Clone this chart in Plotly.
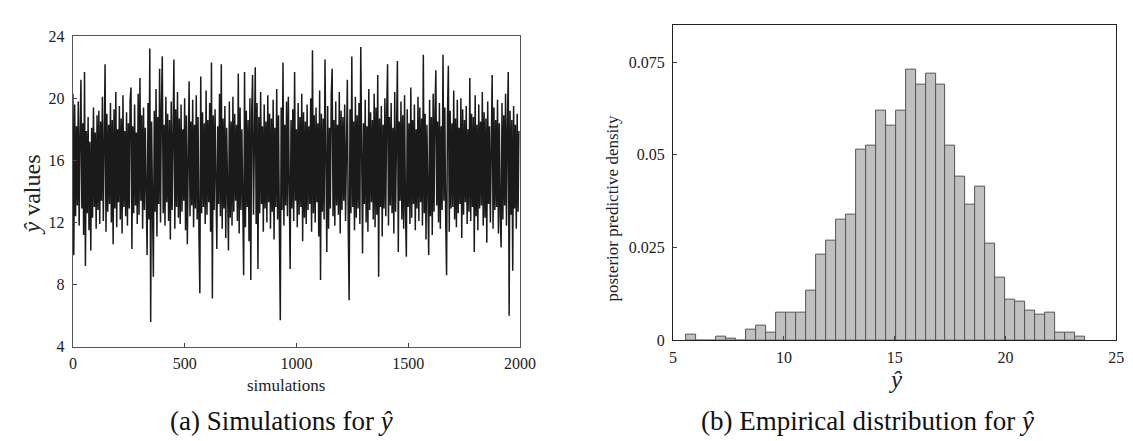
import plotly.graph_objects as go

# ---------------- data ----------------
# left panel: simulated y-hat values (every 4th simulation)
sim_step = 4
y_hat_trace = [
    20.3, 9.9, 19.6, 12.4, 18.2, 13.1, 19.8, 11.8, 17.6, 21.2, 12.9, 18.4, 11.2, 21.7, 9.2, 17.9, 12.6, 18.8, 11.5, 17.2,
    10.2, 18.1, 12.3, 19.4, 13.0, 17.8, 11.6, 18.9, 12.8, 19.2, 11.9, 18.5, 13.4, 20.1, 12.1, 17.7, 22.2, 11.4, 19.0, 12.7,
    18.3, 13.2, 19.7, 12.0, 18.6, 10.6, 19.3, 12.9, 20.4, 11.7, 18.0, 13.3, 19.5, 12.2, 18.7, 11.3, 20.2, 13.0, 17.9, 12.4,
    19.1, 11.8, 18.4, 12.9, 19.9, 20.7, 10.3, 18.2, 12.6, 19.6, 13.1, 17.8, 11.9, 20.3, 12.5, 21.3, 13.4, 18.9, 11.6, 19.4,
    12.8, 18.1, 13.0, 9.9, 19.7, 12.2, 23.2, 5.6, 18.5, 11.4, 8.5, 19.2, 12.7, 20.6, 11.1, 18.8, 13.2, 21.9, 12.0, 19.5,
    22.7, 12.6, 18.3, 11.8, 20.1, 13.3, 19.0, 12.1, 18.6, 10.9, 19.8, 12.8, 18.2, 22.5, 11.6, 19.3, 13.0, 20.4, 12.3, 18.7,
    11.9, 19.6, 12.7, 18.0, 13.4, 20.0, 11.5, 18.9, 10.6, 19.4, 21.1, 12.4, 18.5, 13.1, 19.9, 11.7, 18.3, 12.9, 20.2, 12.2,
    18.8, 11.2, 7.45, 21.4, 12.6, 19.1, 13.0, 18.4, 11.9, 20.5, 12.5, 18.6, 13.3, 19.7, 11.4, 22.3, 7.1, 18.9, 12.8, 19.3,
    12.0, 10.3, 18.2, 13.2, 20.3, 12.4, 22.2, 11.6, 18.7, 12.9, 19.5, 11.0, 18.1, 13.1, 10.2, 19.8, 12.3, 18.5, 11.8, 20.1,
    12.7, 19.0, 13.4, 18.3, 12.1, 21.6, 11.3, 19.4, 12.8, 18.0, 12.2, 8.6, 21.7, 11.7, 19.2, 13.0, 18.6, 10.8, 20.0, 8.3,
    19.1, 21.5, 12.5, 18.4, 22.0, 11.9, 19.7, 9.0, 18.8, 12.6, 20.4, 13.2, 18.2, 11.4, 19.6, 12.9, 18.5, 12.0, 20.2, 13.3,
    19.0, 11.6, 18.7, 12.7, 19.9, 10.9, 18.1, 13.0, 20.6, 12.2, 18.9, 11.5, 5.7, 19.4, 12.8, 22.3, 11.8, 18.3, 13.1, 19.8,
    12.4, 20.1, 11.2, 9.0, 18.6, 12.9, 19.3, 12.1, 21.7, 13.4, 18.0, 11.7, 19.7, 12.5, 18.8, 13.0, 20.3, 10.8, 19.1, 12.3,
    18.5, 11.9, 19.6, 12.8, 18.2, 13.2, 20.0, 11.4, 23.1, 12.6, 18.9, 12.0, 19.4, 13.3, 18.4, 11.1, 20.5, 8.3, 19.0, 12.7,
    18.7, 12.2, 22.5, 13.0, 10.1, 19.5, 11.6, 18.1, 12.9, 20.2, 21.9, 12.4, 18.6, 11.8, 19.8, 13.1, 18.3, 12.5, 20.4, 11.3,
    19.2, 12.8, 18.8, 13.4, 19.6, 12.1, 18.0, 21.2, 11.7, 7.0, 19.3, 12.6, 22.7, 13.0, 18.5, 11.5, 20.1, 12.3, 18.9, 12.9,
    19.7, 11.9, 23.3, 12.7, 10.0, 18.4, 13.2, 19.9, 12.0, 18.2, 11.4, 20.6, 12.8, 19.1, 13.3, 18.6, 12.2, 20.3, 11.7, 19.4,
    12.5, 21.5, 8.5, 18.7, 13.0, 19.5, 11.1, 18.3, 12.9, 20.0, 12.4, 19.0, 22.2, 11.8, 18.8, 13.1, 19.7, 12.6, 18.1, 11.3,
    20.4, 12.7, 19.2, 22.4, 10.1, 18.5, 13.4, 19.8, 12.2, 18.9, 11.6, 20.2, 12.8, 9.8, 19.3, 13.0, 18.4, 11.9, 20.7, 12.3,
    18.6, 13.2, 19.6, 11.5, 18.0, 12.9, 20.1, 12.1, 19.4, 13.3, 18.7, 11.8, 22.8, 12.6, 19.0, 10.9, 18.3, 13.0, 9.9, 19.9,
    12.4, 18.8, 11.2, 20.3, 12.7, 19.1, 21.8, 13.1, 18.5, 12.0, 19.7, 11.6, 18.2, 12.8, 22.8, 13.4, 19.4, 12.3, 8.6, 18.9,
    22.1, 11.4, 19.2, 12.9, 18.4, 13.0, 20.5, 12.2, 18.7, 11.7, 19.9, 12.6, 18.1, 13.2, 20.0, 11.0, 19.3, 12.5, 18.6, 13.3,
    19.5, 11.9, 18.0, 12.7, 21.3, 12.1, 19.0, 13.0, 18.8, 10.1, 20.2, 12.4, 18.3, 11.5, 19.6, 12.9, 18.5, 13.1, 20.4, 11.8,
    19.1, 12.3, 18.7, 10.7, 19.8, 13.2, 18.2, 12.0, 20.1, 21.5, 11.6, 19.4, 12.8, 18.6, 13.0, 19.9, 11.3, 18.4, 12.6, 10.4,
    19.7, 12.2, 18.9, 13.1, 20.3, 11.8, 18.1, 21.7, 6.0, 19.2, 12.5, 18.6, 8.9, 19.5, 12.9, 18.3, 11.6, 19.0, 12.7, 17.9,
]
sim_index = [sim_step * i for i in range(len(y_hat_trace))]

# right panel: histogram of y-hat (40 bins)
bin_start = 5.6
bin_width = 0.45
density = [
    0.0015, 0.0, 0.0, 0.001, 0.0005, 0.0, 0.003, 0.004, 0.002, 0.0075,
    0.0075, 0.0075, 0.0135, 0.023, 0.027, 0.0325, 0.034, 0.0515, 0.0525, 0.062,
    0.058, 0.062, 0.073, 0.069, 0.072, 0.069, 0.0525, 0.044, 0.0365, 0.0415,
    0.026, 0.017, 0.011, 0.0105, 0.008, 0.007, 0.0075, 0.002, 0.002, 0.001,
]
bin_centers = [bin_start + bin_width * (k + 0.5) for k in range(len(density))]

left_yticks = [4, 8, 12, 16, 20, 24]
left_xticks = [0, 500, 1000, 1500, 2000]
right_xticks = [5, 10, 15, 20, 25]
right_yticks = [0, 0.025, 0.05, 0.075]
right_yticklabels = ["0", "0.025", "0.05", "0.075"]

# ---------------- figure ----------------
W, H = 1133, 441
FONT = "Liberation Serif"

fig = go.Figure()

fig.add_trace(go.Scatter(
    x=sim_index, y=y_hat_trace, mode="lines",
    line=dict(color="#1a1a1a", width=1.5),
    xaxis="x", yaxis="y", showlegend=False, hoverinfo="skip",
))

fig.add_trace(go.Bar(
    x=bin_centers, y=density, width=bin_width,
    marker=dict(color="#c0c0c0", line=dict(color="#555555", width=1)),
    xaxis="x2", yaxis="y2", showlegend=False,
))


def px_x(p):
    return p / W


def px_y(p):
    return 1 - p / H


axis_common = dict(
    showgrid=False, zeroline=False, ticks="inside", ticklen=4,
    tickfont=dict(family=FONT, size=16, color="#222"),
    showline=True, mirror=True,
)

fig.update_layout(
    width=W, height=H,
    margin=dict(l=0, r=0, t=0, b=0),
    paper_bgcolor="white", plot_bgcolor="white",
    font=dict(family=FONT),
    bargap=0,
    xaxis=dict(
        domain=[px_x(62), px_x(517)], range=[0, 2000],
        tickvals=left_xticks, linecolor="#555", linewidth=1.2,
        anchor="y", ticklabelstandoff=2, **axis_common,
    ),
    yaxis=dict(
        domain=[px_y(344), px_y(21)], range=[4, 24],
        tickvals=left_yticks, linecolor="#555", linewidth=1.2,
        anchor="x", ticklabelstandoff=4, **axis_common,
    ),
    xaxis2=dict(
        domain=[px_x(673), px_x(1124)], range=[5, 25],
        tickvals=right_xticks, linecolor="#222", linewidth=1.2,
        anchor="y2", ticklabelstandoff=2, **axis_common,
    ),
    yaxis2=dict(
        domain=[px_y(337.3), px_y(9)], range=[0, 0.0851],
        tickvals=right_yticks, ticktext=right_yticklabels,
        linecolor="#222", linewidth=1.2,
        anchor="x2", ticklabelstandoff=4, **axis_common,
    ),
)

ann = [
    dict(text="<i>ŷ</i> values", x=px_x(20), y=px_y(186), textangle=-90,
         font=dict(family=FONT, size=24, color="#222")),
    dict(text="simulations", x=px_x(279), y=px_y(384),
         font=dict(family=FONT, size=17, color="#222")),
    dict(text="posterior predictive density", x=px_x(611), y=px_y(200), textangle=-90,
         font=dict(family=FONT, size=17, color="#222")),
    dict(text="<i>ŷ</i>", x=px_x(899), y=px_y(378),
         font=dict(family=FONT, size=25, color="#222")),
    dict(text="(a) Simulations for <i>ŷ</i>", x=px_x(274), y=px_y(421),
         font=dict(family=FONT, size=27, color="#111")),
    dict(text="(b) Empirical distribution for <i>ŷ</i>", x=px_x(871), y=px_y(421),
         font=dict(family=FONT, size=27, color="#111")),
]
for a in ann:
    a.update(xref="paper", yref="paper", showarrow=False, xanchor="center", yanchor="middle")
fig.update_layout(annotations=ann)

fig.write_html("out.html")
